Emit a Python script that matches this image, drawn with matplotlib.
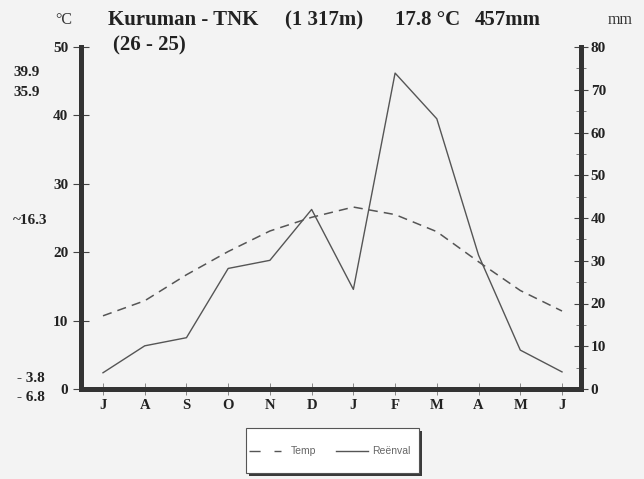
import numpy as np
import matplotlib.pyplot as plt
from matplotlib.patches import Rectangle
from matplotlib.lines import Line2D
from matplotlib.transforms import blended_transform_factory

months = ["J", "A", "S", "O", "N", "D", "J", "F", "M", "A", "M", "J"]
temp = [10.7, 12.9, 16.7, 20.1, 23.1, 25.1, 26.6, 25.5, 23.0, 18.6, 14.4, 11.4]
rain = [3.8, 10.1, 12.0, 28.2, 30.1, 42.0, 23.3, 73.9, 63.2, 31.3, 9.1, 4.0]
side_labels = ["39.9", "35.9", "~16.3", "- 3.8", "- 6.8"]
side_y = [46.2, 43.3, 24.7, 1.5, -1.3]
title_parts = ["Kuruman - TNK", "(1 317m)", "17.8 °C", "457mm"]

serif = "Liberation Serif"
sans = "Liberation Sans"
bg = "#f3f3f3"
ink = "#333333"
W, H = 644, 479


def px(x):
    return x / W


def py(y):
    return 1 - y / H


fig = plt.figure(figsize=(W / 100, H / 100), dpi=100, facecolor=bg)
ax = fig.add_axes([px(81), py(389), px(581) - px(81), py(47) - py(389)])
ax.set_facecolor(bg)
ax2 = ax.twinx()

x = np.arange(1, 13)
ax.plot(x, temp, color="#555555", lw=1.1, ls=(0, (6, 4)))
ax2.plot(x, rain, color="#555555", lw=1.0)

ax.set_xlim(0.473, 12.455)
ax.set_ylim(0, 50)
ax2.set_ylim(0, 80)

for a in (ax, ax2):
    a.spines["top"].set_visible(False)
    for s in ("left", "right", "bottom"):
        a.spines[s].set_linewidth(3.5)
        a.spines[s].set_color(ink)

ax.set_xticks(x)
ax.set_xticklabels(months, fontfamily=serif, fontweight="bold", fontsize=10.5, color="#222222")
ax.tick_params(axis="x", direction="inout", length=8, width=0.6, color="#777777", pad=3)

ax.set_yticks([0, 10, 20, 30, 40, 50])
ax.set_yticklabels(["0", "10", "20", "30", "40", "50"], fontfamily=serif, fontweight="bold",
                   fontsize=11, color="#222222")
ax.tick_params(axis="y", direction="inout", length=12, width=0.8, color="#444444", pad=3)

ax2.set_yticks(np.arange(0, 81, 10))
ax2.set_yticks(np.arange(5, 80, 10), minor=True)
ax2.set_yticklabels([str(v) for v in range(0, 81, 10)], fontfamily=serif, fontweight="bold",
                    fontsize=11, color="#222222")
ax2.tick_params(axis="y", which="major", direction="inout", length=10, width=0.8, color="#444444", pad=2)
ax2.tick_params(axis="y", which="minor", direction="inout", length=7, width=0.6, color="#666666")

# header
fig.text(px(55), py(20), "°C", fontfamily=serif, fontsize=11.5, color="#333333", va="center")
for t, xp in zip(title_parts, [108, 285, 395, 475]):
    fig.text(px(xp), py(20), t, fontfamily=serif, fontweight="bold", fontsize=15,
             color="#222222", va="center")
fig.text(px(113), py(45), "(26 - 25)", fontfamily=serif, fontweight="bold", fontsize=15,
         color="#222222", va="center")
fig.text(px(608), py(20), "mm", fontfamily=serif, fontsize=11.5, color="#333333", va="center")

side_tr = blended_transform_factory(fig.transFigure, ax.transData)
for lab, yv in zip(side_labels, side_y):
    xo = 17 if lab.startswith("-") else 13
    ax.text(px(xo), yv, lab, transform=side_tr, fontfamily=serif, fontweight="bold",
            fontsize=11, color="#222222", va="center", ha="left", clip_on=False)

# legend box drawn by hand
fig.patches.append(Rectangle((px(249), py(476)), px(419) - px(246), py(428) - py(473),
                             transform=fig.transFigure, facecolor="#3a3a3a", edgecolor="none"))
fig.patches.append(Rectangle((px(246), py(473)), px(419) - px(246), py(428) - py(473),
                             transform=fig.transFigure, facecolor="white", edgecolor="#555555",
                             lw=0.8))
fig.lines.append(Line2D([px(249), px(281)], [py(451), py(451)], transform=fig.transFigure,
                        color="#555555", lw=1.0, ls=(0, (8, 10))))
fig.lines.append(Line2D([px(336), px(368)], [py(451), py(451)], transform=fig.transFigure,
                        color="#555555", lw=1.0))
fig.text(px(291), py(451), "Temp", fontfamily=sans, fontsize=7.5, color="#666666", va="center")
fig.text(px(372), py(451), "Reënval", fontfamily=sans, fontsize=7.5, color="#666666", va="center")

fig.savefig("out.png", dpi=100, facecolor=bg)
